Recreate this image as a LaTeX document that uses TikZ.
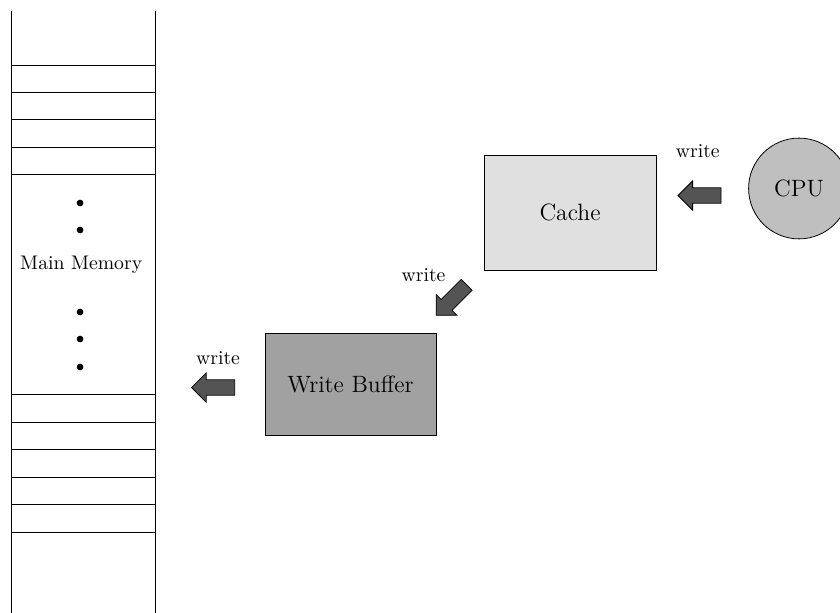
\documentclass[tikz,border=0pt]{standalone}
\usetikzlibrary{shapes.arrows,positioning}
\tikzset{
  unitbox/.style={draw,rectangle,minimum width=3.07cm,minimum height=2.05cm,font=\large},
  cpunode/.style={draw,circle,minimum size=1.8cm,fill=black!25,font=\large},
  wrarrow/.style={single arrow,draw,fill=black!67,minimum width=0.5cm,minimum height=0.77cm,
    single arrow head extend=0.125cm,inner xsep=0pt,inner ysep=0.13cm},
  wrlbl/.style={font=\normalsize}
}

\begin{document}
\begin{tikzpicture}
  \useasboundingbox (0,0) rectangle (15,-10.946);

  % main memory column
  \draw (0.2,-0.2) -- (0.2,-11);
  \draw (2.77,-0.2) -- (2.77,-11);
  \foreach \y in {1.16,1.65,2.14,2.63,3.12,7.05,7.54,8.03,8.52,9.01,9.50}
    \draw (0.2,-\y) -- (2.77,-\y);
  \foreach \y in {3.625,4.107,5.571,6.054,6.554}
    \fill (1.43,-\y) circle (0.06);
  \node (mainmem) at (1.45,-4.73) {Main Memory};

  % units
  \node[cpunode] (cpu) at (14.268,-3.366) {CPU};
  \node[unitbox,fill=black!12] (cache) at (10.179,-3.795) {Cache};
  \node[unitbox,fill=black!37,minimum width=3.05cm,minimum height=1.82cm] (wbuf) at (6.259,-6.857) {Write Buffer};

  % write paths
  \node[wrarrow,rotate=180] (cpuwr) at (12.56,-3.491) {};
  \node[wrarrow,rotate=225] (cachewr) at (8.11,-5.31) {};
  \node[wrarrow,rotate=180] (bufwr) at (3.874,-6.920) {};

  \node[wrlbl] (cpuwrl) at (12.46,-2.705) {write};
  \node[wrlbl] (cachewrl) at (7.563,-4.920) {write};
  \node[wrlbl] (bufwrl) at (3.893,-6.402) {write};
\end{tikzpicture}
\end{document}
